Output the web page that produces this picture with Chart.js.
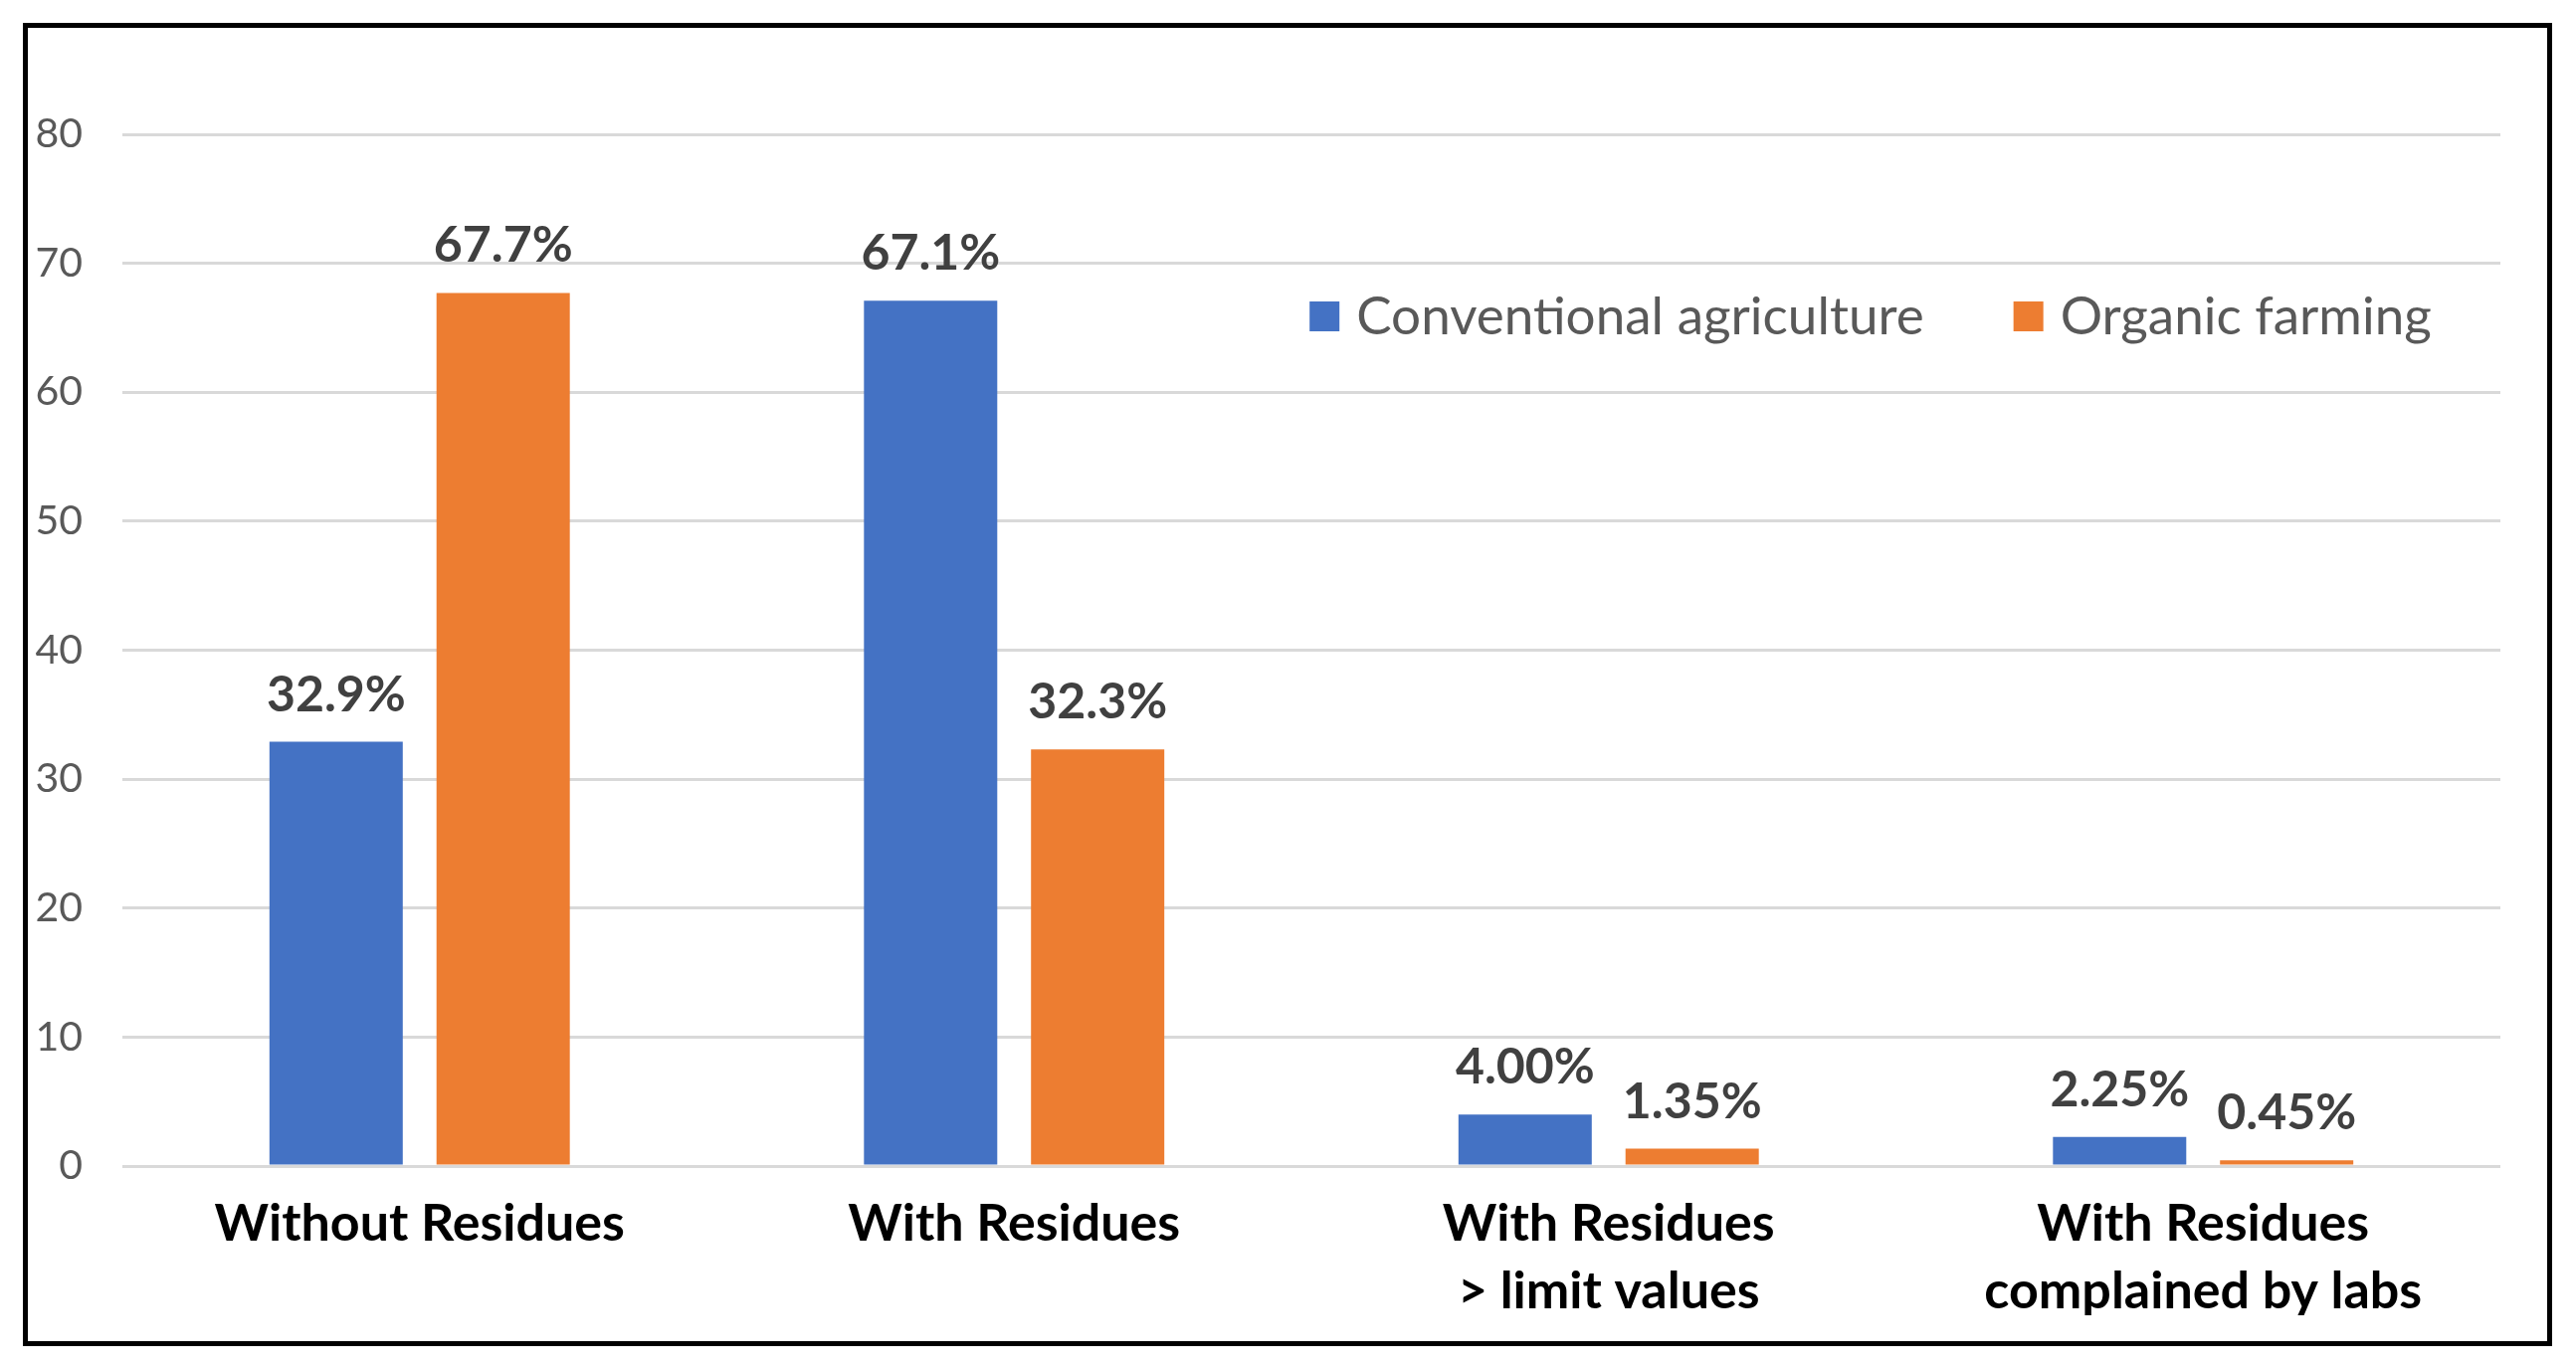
<!DOCTYPE html>
<html lang="en">
<head>
  <meta charset="UTF-8">
  <title>Pesticide residues: conventional vs organic</title>
  <style>
    html, body { margin: 0; padding: 0; background: #fff; }
    #wrap { position: relative; width: 2589px; height: 1376px; }
    #frame {
      position: absolute; left: 23px; top: 23px;
      width: 2542px; height: 1330px;
      box-sizing: border-box; border: 5px solid #000;
    }
    #chartBox { position: absolute; left: 0; top: 0; width: 2589px; height: 1376px; }
  </style>
</head>
<body>
  <div id="wrap">
    <div id="frame"></div>
    <div id="chartBox"><canvas id="myChart"></canvas></div>
  </div>

  <script src="https://cdn.jsdelivr.net/npm/chart.js@4.4.2/dist/chart.umd.min.js"></script>
  <script>
    // categories (multi-line labels)
    const categories = [
      ['Without Residues'],
      ['With Residues'],
      ['With Residues', '> limit values'],
      ['With Residues', 'complained by labs']
    ];
    const seriesNames = ['Conventional agriculture', 'Organic farming'];
    const conventional = [32.9, 67.1, 4.00, 2.25];
    const organic = [67.7, 32.3, 1.35, 0.45];
    const yTicks = [0, 10, 20, 30, 40, 50, 60, 70, 80];

    const BLUE = '#4472C4';
    const ORANGE = '#ED7D31';
    const FONT = 'Lato';

    function fmt(v) {
      return (v >= 10 ? v.toFixed(1) : v.toFixed(2)) + '%';
    }

    // value labels above bars
    const valueLabels = {
      id: 'valueLabels',
      afterDatasetsDraw(chart) {
        const ctx = chart.ctx;
        ctx.save();
        ctx.font = 'bold 50px ' + FONT;
        ctx.fillStyle = '#404040';
        ctx.textAlign = 'center';
        ctx.textBaseline = 'alphabetic';
        chart.data.datasets.forEach((ds, i) => {
          chart.getDatasetMeta(i).data.forEach((bar, j) => {
            ctx.fillText(fmt(ds.data[j]), bar.x, bar.y - 31);
          });
        });
        ctx.restore();
      }
    };

    // legend drawn inside the plot area, top right
    const insideLegend = {
      id: 'insideLegend',
      afterDraw(chart) {
        const ctx = chart.ctx;
        const box = 30, gapText = 17, gapItem = 90;
        ctx.save();
        ctx.font = '53px ' + FONT;
        ctx.textBaseline = 'middle';
        const items = chart.data.datasets.map(ds => ({
          text: ds.label, color: ds.backgroundColor,
          w: box + gapText + ctx.measureText(ds.label).width
        }));
        const total = items.reduce((s, it) => s + it.w, 0) + gapItem * (items.length - 1);
        let x = 1880 - total / 2;
        const cy = 318;
        items.forEach(it => {
          ctx.fillStyle = it.color;
          ctx.fillRect(x, cy - box / 2, box, box);
          ctx.fillStyle = '#595959';
          ctx.fillText(it.text, x + box + gapText, cy + 1);
          x += it.w + gapItem;
        });
        ctx.restore();
      }
    };

    const ctx = document.getElementById('myChart').getContext('2d');
    const chart = new Chart(ctx, {
      type: 'bar',
      data: {
        labels: categories,
        datasets: [
          { label: seriesNames[0], data: conventional, backgroundColor: BLUE },
          { label: seriesNames[1], data: organic, backgroundColor: ORANGE }
        ]
      },
      options: {
        responsive: true,
        maintainAspectRatio: false,
        devicePixelRatio: 1,
        animation: false,
        layout: { padding: { left: 23, right: 76, top: 135, bottom: 54 } },
        datasets: {
          bar: { barPercentage: 0.798, categoryPercentage: 0.562 }
        },
        scales: {
          x: {
            grid: { display: false, drawTicks: false },
            border: { display: false },
            ticks: {
              color: '#000',
              padding: 24,
              maxRotation: 0,
              autoSkip: false,
              font: { family: FONT, size: 52, weight: 'bold', lineHeight: '68px' }
            },
            afterFit(scale) { scale.height = 150; }
          },
          y: {
            min: 0,
            max: 80,
            afterBuildTicks(scale) { scale.ticks = yTicks.map(v => ({ value: v })); },
            grid: { color: '#d9d9d9', lineWidth: 3, drawTicks: false },
            border: { display: false },
            ticks: {
              color: '#595959',
              padding: 40,
              font: { family: FONT, size: 41 }
            },
            afterFit(scale) { scale.width = 100; }
          }
        },
        plugins: {
          legend: { display: false },
          tooltip: { enabled: false }
        }
      },
      plugins: [valueLabels, insideLegend]
    });
  </script>
</body>
</html>
